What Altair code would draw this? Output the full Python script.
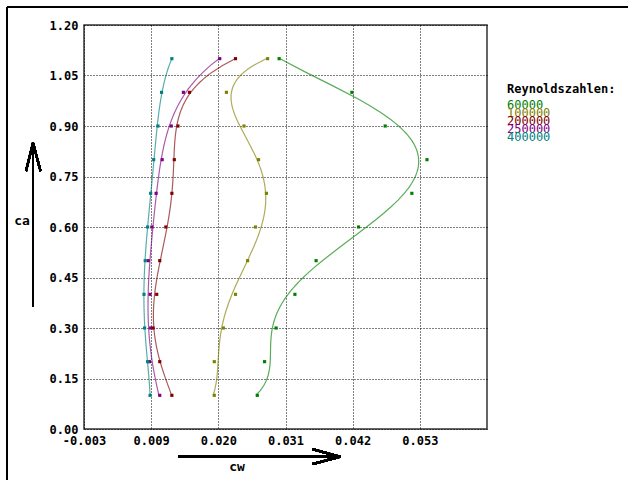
import altair as alt
import pandas as pd

# ---------------- data ----------------
ca_values = [0.1, 0.2, 0.3, 0.4, 0.5, 0.6, 0.7, 0.8, 0.9, 1.0, 1.1]

re_labels = ["60000", "100000", "200000", "250000", "400000"]
re_colors = ["#008000", "#808000", "#800000", "#800080", "#008080"]

cw_60000 = [0.0261, 0.0273, 0.0292, 0.0323, 0.0358, 0.0428, 0.0516, 0.0541, 0.0472, 0.0417, 0.0297]
cw_100000 = [0.0190, 0.0190, 0.0205, 0.0225, 0.0245, 0.0258, 0.0276, 0.0263, 0.0239, 0.0210, 0.0278]
cw_200000 = [0.0120, 0.0100, 0.0089, 0.0095, 0.0100, 0.0110, 0.0120, 0.0124, 0.0130, 0.0149, 0.0225]
cw_250000 = [0.0100, 0.0083, 0.0085, 0.0084, 0.0081, 0.0087, 0.0094, 0.0104, 0.0119, 0.0139, 0.0199]
cw_400000 = [0.0084, 0.0080, 0.0075, 0.0074, 0.0076, 0.0080, 0.0085, 0.0090, 0.0097, 0.0103, 0.0120]

x_min, x_max = -0.0025, 0.064
x_tick_labels = ["-0.003", "0.009", "0.020", "0.031", "0.042", "0.053"]
y_ticks = [0.0, 0.15, 0.30, 0.45, 0.60, 0.75, 0.90, 1.05, 1.20]

series = [cw_60000, cw_100000, cw_200000, cw_250000, cw_400000]
rows = []
for lab, vals in zip(re_labels, series):
    for ca, cw in zip(ca_values, vals):
        rows.append({"Re": lab, "ca": ca, "cw": cw})
df = pd.DataFrame(rows)

step = (x_max - x_min) / 6
x_tick_values = [x_min + k * step for k in range(6)]
label_expr = "[" + ",".join("'%s'" % s for s in x_tick_labels) + "][round((datum.value - (%r)) / %r)]" % (x_min, step)

W, H = 403, 404
FONT = "DejaVu Sans Mono"

color = alt.Color("Re:N", scale=alt.Scale(domain=re_labels, range=re_colors), legend=None)

x_enc = alt.X(
    "cw:Q",
    scale=alt.Scale(domain=[x_min, x_max], nice=False, zero=False),
    axis=alt.Axis(values=x_tick_values, labelExpr=label_expr, title=None, grid=True,
                  gridDash=[1, 2], gridColor="#000000", gridOpacity=1, domain=False, ticks=False,
                  labelFont=FONT, labelFontWeight="bold", labelFontSize=12, labelColor="#000000",
                  labelPadding=6, labelFlush=False),
)
y_enc = alt.Y(
    "ca:Q",
    scale=alt.Scale(domain=[0, 1.2], nice=False),
    axis=alt.Axis(values=y_ticks, format=".2f", title=None, grid=True,
                  gridDash=[1, 2], gridColor="#000000", gridOpacity=1, domain=False, ticks=False,
                  labelFont=FONT, labelFontWeight="bold", labelFontSize=12, labelColor="#000000",
                  labelPadding=6),
)

base = alt.Chart(df)

curves = base.transform_regression(
    "ca", "cw", method="poly", order=5, groupby=["Re"]
).mark_line(strokeWidth=1.2, opacity=0.65, clip=True).encode(
    x=x_enc, y=y_enc, color=color, order=alt.Order("ca:Q")
)

points = base.mark_square(size=10, opacity=1).encode(x="cw:Q", y="ca:Q", color=color)

layers = [curves, points]

# ---------------- decorations (axis arrows, labels, frame) ----------------
def seg(x1, y1, x2, y2, w=2, col="#000000"):
    return alt.Chart(df).mark_rule(strokeWidth=w, color=col).encode(
        x=alt.value(x1), y=alt.value(y1), x2=alt.value(x2), y2=alt.value(y2))

def txt(s, x, y, size=13, col="#000000", weight="bold", align="center"):
    return alt.Chart(pd.DataFrame({"t": [s]})).mark_text(
        font=FONT, fontSize=size, fontWeight=weight, color=col, align=align, baseline="middle"
    ).encode(text="t:N", x=alt.value(x), y=alt.value(y))

# outer frame (top and left)
layers.append(seg(-77, -18, 544, -18, w=2))
layers.append(seg(-77, -18, -77, 455, w=2))
# ca arrow
layers.append(seg(-51, 118, -51, 282))
layers.append(seg(-58, 146, -51, 118))
layers.append(seg(-43.5, 146, -51, 118))
layers.append(txt("ca", -62, 196))
# cw arrow
layers.append(seg(94, 431.7, 256, 431.7))
layers.append(seg(228.7, 424.3, 256, 431.7))
layers.append(seg(228.7, 439, 256, 431.7))
layers.append(txt("cw", 153, 442))

# legend
layers.append(txt("Reynoldszahlen:", 423, 64, size=12, align="left"))
for i, (lab, col) in enumerate(zip(re_labels, re_colors)):
    layers.append(txt(lab, 423, 79.5 + 8 * i, size=12, col=col, weight="normal", align="left"))

chart = alt.layer(*layers).properties(
    width=W, height=H,
    padding={"left": 84, "top": 25, "right": 141, "bottom": 51},
    autosize=alt.AutoSizeParams(type="none"),
    background="#ffffff",
).configure_view(stroke="#333333", strokeWidth=1.5)

chart.save("out.html", embed_options={"renderer": "svg", "actions": False})
